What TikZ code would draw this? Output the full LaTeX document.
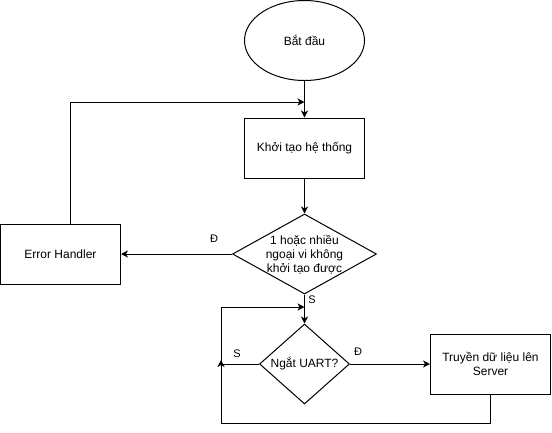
\documentclass[tikz,border=0pt]{standalone}
\usepackage{fontspec}
\setmainfont{Liberation Sans}
\usetikzlibrary{shapes.geometric,arrows.meta}
\begin{document}
\begin{tikzpicture}[x=1pt,y=-1pt,
  every node/.style={font=\fontsize{12}{14}\selectfont},
  box/.style={draw,line width=1pt,minimum width=120pt,minimum height=60pt,inner sep=0pt,align=center},
  oval/.style={draw,ellipse,line width=1pt,minimum width=120pt,minimum height=80pt,inner sep=0pt},
  dia/.style={draw,diamond,line width=1pt,inner sep=0pt},
  conn/.style={line width=1pt,-{Stealth[length=7pt,width=7pt,inset=2pt]}},
  lbl/.style={font=\fontsize{11}{13}\selectfont,inner sep=0pt}]
\useasboundingbox (0,0) rectangle (552,432);
\node[oval] (start) at (304.5,40.5) {Bắt đầu};
\node[box] (init) at (304.5,148) {Khởi tạo hệ thống};
\node[dia,minimum width=144pt,minimum height=80pt] (dec1) at (304.5,254) {};
\node[align=center,inner sep=0pt] (dec1t) at (304.5,255) {1 hoặc nhiều\\ngoại vi không\\khởi tạo được};
\node[box] (err) at (60.5,254) {Error Handler};
\node[dia,minimum width=90pt,minimum height=80pt] (dec2) at (304.5,364) {};
\node[inner sep=0pt] (dec2t) at (304.5,364) {Ngắt UART?};
\node[box] (send) at (490.5,364) {Truyền dữ liệu lên\\Server};
\coordinate (j1) at (304.5,102);
\coordinate (j2) at (304.5,307);
\coordinate (lp) at (221,364);
\coordinate (lb) at (221,423);
\draw[conn] (start) -- (init);
\draw[conn] (init) -- (dec1);
\draw[conn] (dec1.west) -- (err.east);
\node[lbl] (l1) at (214,239) {Đ};
\draw[conn] ([xshift=10pt]err.north) |- (j1);
\draw[conn] (dec1.south) -- (dec2.north);
\node[lbl] (l2) at (312,300) {S};
\draw[conn] (dec2.west) -- (lp) |- (j2);
\node[lbl] (l3) at (237,354) {S};
\draw[conn] (dec2.east) -- (send.west);
\node[lbl] (l4) at (358,352) {Đ};
\draw[conn] (send.south) |- (lb) -- ([yshift=4pt]lp);
\end{tikzpicture}
\end{document}
